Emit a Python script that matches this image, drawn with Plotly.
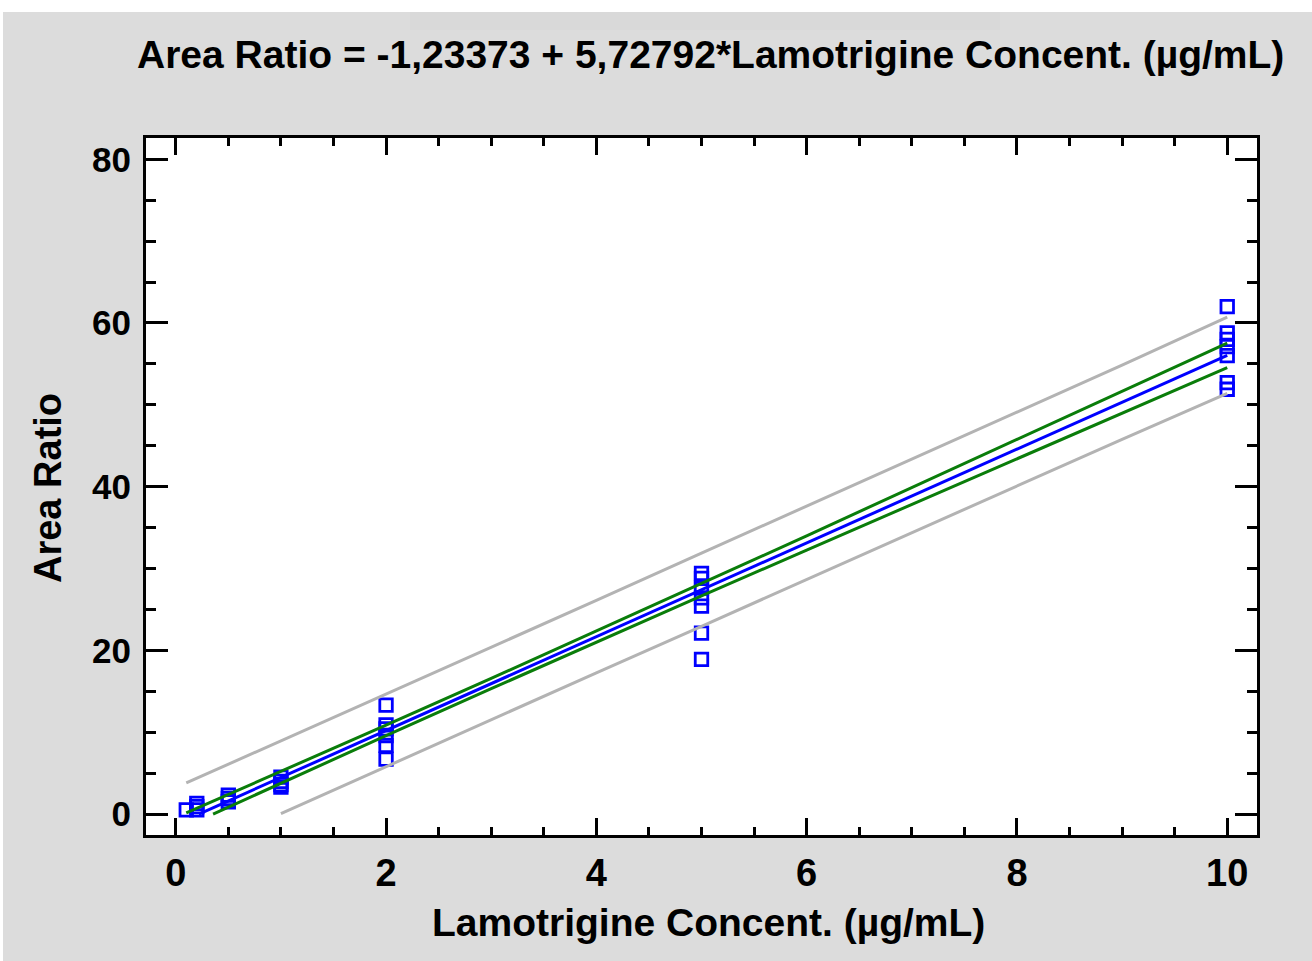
import plotly.graph_objects as go

# ---------------- data ----------------
conc_x = [0.1, 0.2, 0.2, 0.2, 0.5, 0.5, 0.5, 1, 1, 1, 1,
          2, 2, 2, 2, 2, 2,
          5, 5, 5, 5, 5, 5, 5,
          10, 10, 10, 10, 10, 10, 10]
ratio_y = [0.5, 0.5, 0.9, 1.3, 1.5, 1.9, 2.3, 3.3, 3.6, 4.0, 4.5,
           13.3, 10.9, 10.4, 9.6, 8.4, 6.7,
           29.4, 28.8, 27.6, 26.4, 25.4, 22.1, 18.9,
           62.0, 58.8, 58.0, 57.1, 56.0, 52.7, 51.9]

fit_x = [0.22, 10.0]
fit_y = [0.0, 56.05]

band_x = [0.1, 1, 2, 3, 4, 5, 6, 7, 8, 9, 10]
conf_upper = [0.14, 5.2, 10.86, 16.58, 22.35, 28.17, 34.0, 39.9, 45.76, 51.65, 57.55]
pred_upper = [3.8, 8.94, 14.64, 20.37, 26.1, 31.88, 37.6, 43.35, 49.1, 54.85, 60.7]

conf_lower_x = [0.355, 1, 2, 3, 4, 5, 6, 7, 8, 9, 10]
conf_lower = [0.0, 3.78, 9.58, 15.32, 21.0, 26.65, 32.25, 37.84, 43.42, 48.99, 54.55]

pred_lower_x = [1.0, 2, 3, 4, 5, 6, 7, 8, 9, 10]
pred_lower = [0.04, 5.8, 11.53, 17.26, 22.94, 28.66, 34.37, 40.08, 45.79, 51.4]

x_ticks = [0, 2, 4, 6, 8, 10]
y_ticks = [0, 20, 40, 60, 80]

title_text = "Area Ratio = -1,23373 + 5,72792*Lamotrigine Concent. (µg/mL)"
x_title = "Lamotrigine Concent. (µg/mL)"
y_title = "Area Ratio"

# ---------------- figure ----------------
W, H = 1312, 961
L, R, T, B = 146, 1257, 138, 835

BLUE = "#0000ff"
GREEN = "#0a7d0a"
GRAY = "#b3b3b3"
FONT = "Liberation Sans"

fig = go.Figure()

fig.add_trace(go.Scatter(x=conc_x, y=ratio_y, mode="markers",
                         marker=dict(symbol="square-open", size=12.5, color=BLUE,
                                     line=dict(width=2.8, color=BLUE)),
                         showlegend=False, cliponaxis=True))

fig.add_trace(go.Scatter(x=band_x, y=pred_upper, mode="lines",
                         line=dict(color=GRAY, width=3), showlegend=False))
fig.add_trace(go.Scatter(x=pred_lower_x, y=pred_lower, mode="lines",
                         line=dict(color=GRAY, width=3), showlegend=False))
fig.add_trace(go.Scatter(x=band_x, y=conf_upper, mode="lines",
                         line=dict(color=GREEN, width=3), showlegend=False))
fig.add_trace(go.Scatter(x=conf_lower_x, y=conf_lower, mode="lines",
                         line=dict(color=GREEN, width=3), showlegend=False))
fig.add_trace(go.Scatter(x=fit_x, y=fit_y, mode="lines",
                         line=dict(color=BLUE, width=3), showlegend=False))


def px_x(p):
    return (p - L) / (R - L)


def px_y(p):
    return (B - p) / (B - T)


fig.update_layout(
    width=W, height=H,
    margin=dict(l=L, r=W - R, t=T, b=H - B, pad=0),
    paper_bgcolor="#dcdcdc",
    plot_bgcolor="white",
    font=dict(family=FONT, color="black"),
    xaxis=dict(
        range=[-0.283, 10.283],
        tickvals=x_ticks,
        ticks="inside", ticklen=17, tickwidth=3, tickcolor="black",
        minor=dict(dtick=0.5, ticks="inside", ticklen=8, tickwidth=3, tickcolor="black"),
        showline=True, linewidth=3, linecolor="black", mirror="ticks",
        showgrid=False, zeroline=False,
        tickfont=dict(family=FONT, size=38, weight="bold"),
        ticklabelstandoff=2,
    ),
    yaxis=dict(
        range=[-2.56, 82.6],
        tickvals=y_ticks,
        ticks="inside", ticklen=22, tickwidth=3, tickcolor="black",
        minor=dict(dtick=5, ticks="inside", ticklen=10, tickwidth=3, tickcolor="black"),
        showline=True, linewidth=3, linecolor="black", mirror="ticks",
        showgrid=False, zeroline=False,
        tickfont=dict(family=FONT, size=35, weight="bold"),
        ticklabelstandoff=5,
    ),
    shapes=[
        dict(type="rect", xref="paper", yref="paper",
             x0=px_x(-5), x1=px_x(W + 5), y0=px_y(12), y1=px_y(-5),
             fillcolor="white", line=dict(width=0), layer="below"),
        dict(type="rect", xref="paper", yref="paper",
             x0=px_x(-5), x1=px_x(3), y0=px_y(H + 5), y1=px_y(-5),
             fillcolor="white", line=dict(width=0), layer="below"),
        dict(type="rect", xref="paper", yref="paper",
             x0=px_x(410), x1=px_x(1000), y0=px_y(30), y1=px_y(12),
             fillcolor="#d9d9d9", line=dict(width=0), layer="below"),
    ],
    annotations=[
        dict(text=title_text, xref="paper", yref="paper",
             x=px_x(710), y=px_y(55), xanchor="center", yanchor="middle",
             showarrow=False, font=dict(family=FONT, size=39, weight="bold")),
        dict(text=x_title, xref="paper", yref="paper",
             x=px_x(708), y=px_y(922), xanchor="center", yanchor="middle",
             showarrow=False, font=dict(family=FONT, size=39, weight="bold")),
        dict(text=y_title, xref="paper", yref="paper",
             x=px_x(48), y=px_y(488), xanchor="center", yanchor="middle",
             textangle=-90, showarrow=False,
             font=dict(family=FONT, size=38, weight="bold")),
    ],
)

fig.write_html("out.html")
